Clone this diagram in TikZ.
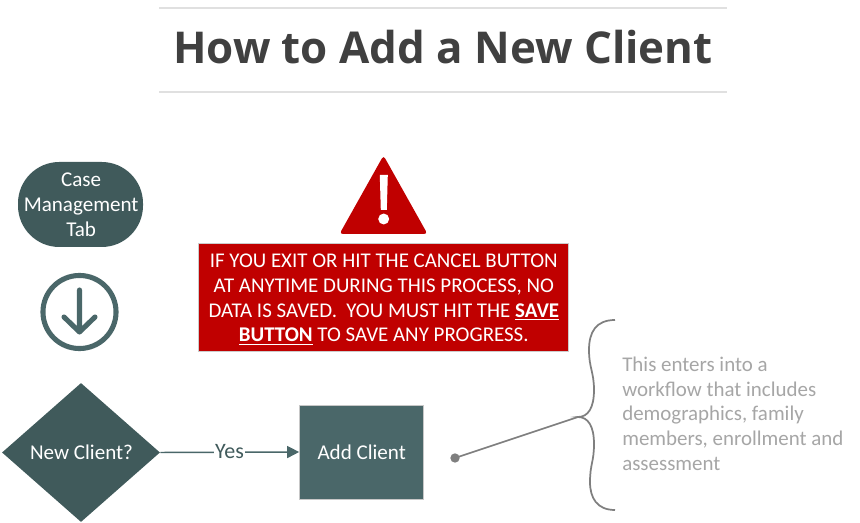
\documentclass[tikz,border=0pt]{standalone}
\usepackage{fontspec}
\setmainfont{Carlito}
\newfontfamily\titlefont{Open Sans}
\usetikzlibrary{shapes.geometric,arrows.meta}
\definecolor{tealdark}{HTML}{405A5B}
\definecolor{tealmid}{HTML}{4A6769}
\definecolor{alertred}{HTML}{C00000}
\definecolor{notegray}{HTML}{A6A6A6}
\definecolor{bracegray}{HTML}{7F7F7F}
\definecolor{rulegray}{HTML}{E0E0E0}
\tikzset{
  x=0.75pt, y=-0.75pt,
  body/.style={text=white, font=\fontsize{15.8}{18.6}\selectfont, align=center, inner sep=0pt},
  flow/.style={draw=tealmid, line width=1.1pt, -{Triangle[length=9pt,width=9pt]}},
  braceline/.style={draw=bracegray, line width=1.3pt},
  titlerule/.style={draw=rulegray, line width=1.3pt},
}
\begin{document}
\begin{tikzpicture}
\useasboundingbox[fill=white] (0,0) rectangle (860,523);
% title
\coordinate (r1a) at (159,8); \coordinate (r1b) at (727,8);
\coordinate (r2a) at (159,92); \coordinate (r2b) at (727,92);
\draw[titlerule] (r1a) -- (r1b);
\draw[titlerule] (r2a) -- (r2b);
\node[inner sep=0pt, text=black!75, font=\titlefont\bfseries\fontsize{32.9}{40}\selectfont] (title) at (443,47) {How to Add a New Client};
% start terminator
\node[body, fill=tealdark, rounded corners=31pt, minimum width=93.75pt, minimum height=63.75pt] (start) at (80.5,204.5) {\hspace*{1pt}Case\\\hspace*{1pt}Management\\\hspace*{1pt}Tab};
% down arrow icon
\node[circle, draw=tealmid, line width=3.8pt, minimum size=54.8pt, inner sep=0pt] (icon) at (79.5,312) {};
\coordinate (ia) at (79.5,290); \coordinate (ib) at (79.5,332);
\coordinate (ic) at (64,317); \coordinate (id) at (95,317);
\draw[tealmid, line width=3.8pt, line cap=round, line join=round] (ia) -- (ib) (ic) -- (ib) -- (id);
% warning triangle
\coordinate (t1) at (383.5,155.5); \coordinate (t2) at (427.5,234); \coordinate (t3) at (339.5,234);
\fill[alertred, rounded corners=2.5pt] (t1) -- (t2) -- (t3) -- cycle;
\fill[white] (379.8,175) -- (387.8,175) -- (386.8,210) -- (380.8,210) -- cycle;
\node[circle, fill=white, minimum size=8.2pt, inner sep=0pt] (dot) at (383.7,219) {};
% warning box
\node[fill=alertred, draw=black!20, line width=0.6pt, minimum width=278pt, minimum height=81pt, inner sep=0pt] (warn) at (383.3,297) {};
\node[inner sep=0pt, text=white, align=center, font=\fontsize{15.7}{18.7}\selectfont] (warntext) at (383.8,299.2)
 {IF YOU EXIT OR HIT THE CANCEL BUTTON\\AT ANYTIME DURING THIS PROCESS, NO\\DATA IS SAVED.\ \ YOU MUST HIT THE \underline{\textbf{SAVE}}\\\underline{\textbf{BUTTON}} TO SAVE ANY PROGRESS.};
% decision and process
\node[body, diamond, aspect=1.137, fill=tealdark, minimum width=118.5pt, minimum height=104.25pt] (newc) at (81,452.5) {\hspace*{.8pt}New Client?};
\node[body, fill=tealmid, draw=black!22, line width=0.6pt, minimum width=93.2pt, minimum height=70.5pt] (add) at (361.7,452) {Add Client};
\draw[flow] (newc.east) -- (add.west);
\node[fill=white, inner sep=0.8pt, text=tealdark, font=\fontsize{16.5}{18}\selectfont] (yes) at (229.5,452) {Yes};
% brace and note
\node[circle, fill=bracegray, minimum size=7pt, inner sep=0pt] (pin) at (455,458) {};
\coordinate (tip) at (578,417);
\coordinate (bt) at (615,320); \coordinate (bb) at (615,510);
\draw[braceline] (pin.center) -- (tip);
\draw[braceline] (bt) .. controls (596,320) and (589,332) .. (589,350)
  .. controls (589,368) and (594,372) .. (594,390)
  .. controls (594,408) and (588,417) .. (tip)
  .. controls (588,417) and (594,426) .. (594,444)
  .. controls (594,462) and (590,464) .. (590,482)
  .. controls (590,498) and (597,510) .. (bb);
\node[anchor=north west, inner sep=0pt, text=notegray, align=left, font=\fontsize{15.7}{18.55}\selectfont] (note) at (622,356.5)
 {This enters into a\\workflow that includes\\demographics, family\\members, enrollment and\\assessment};
\end{tikzpicture}
\end{document}
